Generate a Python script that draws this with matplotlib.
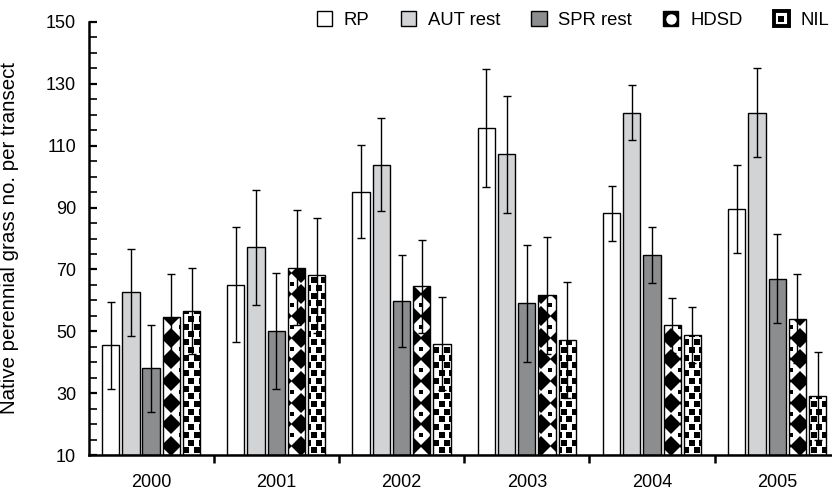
import numpy as np
import matplotlib.pyplot as plt
from matplotlib.patches import Patch, Rectangle
from matplotlib.lines import Line2D
from matplotlib.legend_handler import HandlerBase

plt.rcParams['font.family'] = ['Liberation Sans', 'DejaVu Sans']

years = ['2000', '2001', '2002', '2003', '2004', '2005']
treatments = ['RP', 'AUT rest', 'SPR rest', 'HDSD', 'NIL']

rp = [45.5, 65.1, 95.1, 115.7, 88.1, 89.6]
aut_rest = [62.6, 77.2, 103.8, 107.2, 120.7, 120.7]
spr_rest = [38.0, 50.1, 59.8, 59.0, 74.6, 67.0]
hdsd = [54.5, 70.6, 64.5, 61.6, 51.9, 54.0]
nil = [56.6, 68.1, 46.0, 47.1, 48.9, 29.0]

# error bar half-length read per year (about the same for every treatment)
err_rp = [14.0, 18.7, 15.0, 19.0, 9.0, 14.3]
err_aut = [14.0, 18.6, 15.0, 18.9, 9.0, 14.3]
err_spr = [14.0, 18.7, 15.0, 18.9, 9.0, 14.3]
err_hdsd = [14.0, 18.6, 15.0, 19.0, 9.0, 14.4]
err_nil = [14.0, 18.6, 15.0, 18.7, 9.0, 14.2]

values = [rp, aut_rest, spr_rest, hdsd, nil]
errors = [err_rp, err_aut, err_spr, err_hdsd, err_nil]
colors = ['white', '#d1d3d4', '#8b8d8f', 'white', 'white']

base = 10

fig = plt.figure(figsize=(8.32, 4.92), dpi=100)
ax = fig.add_axes([88.5 / 832, 37 / 492, (832 - 88.5) / 832, 433 / 492])

x = np.arange(len(years))
step = 0.1616
width = 0.138

containers = []
for k, (vals, errs, col) in enumerate(zip(values, errors, colors)):
    pos = x + (k - 2) * step
    h = np.array(vals) - base
    bars = ax.bar(pos, h, width, bottom=base, color=col, edgecolor='none', zorder=2)
    containers.append(bars)
    # outline on top of any pattern
    ax.bar(pos, h, width, bottom=base, fill=False, edgecolor='black', linewidth=1.0, zorder=3)
    ax.errorbar(pos, vals, yerr=errs, fmt='none', ecolor='black', elinewidth=1.0,
                capsize=3, capthick=1.0, zorder=4)


def fill_pattern(bars, x0, px, y0, py, marker, ms, stagger=0.0):
    # lattice of markers, clipped to each bar
    for b in bars:
        bx, by, bw, bh = b.get_x(), b.get_y(), b.get_width(), b.get_height()
        j0 = int(np.floor((by - y0) / py)) - 1
        j1 = int(np.ceil((by + bh - y0) / py)) + 1
        xs, ys = [], []
        for j in range(j0, j1 + 1):
            off = x0 + (j % 2) * stagger * px
            i0 = int(np.floor((bx - off) / px)) - 1
            i1 = int(np.ceil((bx + bw - off) / px)) + 1
            for i in range(i0, i1 + 1):
                xs.append(off + i * px)
                ys.append(y0 + j * py)
        ln, = ax.plot(xs, ys, ls='', marker=marker, ms=ms, color='black',
                      markeredgewidth=0, zorder=2.5)
        ln.set_clip_path(b)


hd = containers[3]
hx0 = hd[0].get_x() + hd[0].get_width() / 2
fill_pattern(hd, hx0, 0.1477, 12.9, 7.0, 'D', 10.5)
fill_pattern(hd, hx0 + 0.1477 / 2, 0.1477, 12.9 + 3.5, 7.0, 's', 3.2)

nl = containers[4]
fill_pattern(nl, nl[0].get_x() + 0.025, 0.085, 11.5, 2.5, 's', 3.8, stagger=0.5)

ax.set_ylim(10, 150)
ax.set_xlim(-0.5, -0.5 + (832 - 88.3) / 125.25)

ax.set_yticks(np.arange(10, 151, 20))
ax.set_yticks(np.arange(10, 151, 5), minor=True)
ax.tick_params(axis='y', which='major', direction='in', length=6, width=1.6, pad=9, labelsize=13)
ax.tick_params(axis='y', which='minor', direction='in', length=6, width=1.2)

ax.set_xticks(x)
ax.set_xticklabels(years)
ax.set_xticks(x[:-1] + 0.5, minor=True)
ax.tick_params(axis='x', which='major', length=0, pad=14, labelsize=13)
ax.tick_params(axis='x', which='minor', direction='out', length=6, width=1.8)

for s in ['top', 'right']:
    ax.spines[s].set_visible(False)
for s in ['left', 'bottom']:
    ax.spines[s].set_linewidth(1.8)

ax.set_ylabel('Native perennial grass no. per transect', fontsize=14.8)
ax.yaxis.set_label_coords(-0.094, 0.5)


class BoxHandler(HandlerBase):
    # legend key: square plus an optional marker in the middle
    def __init__(self, fc, lw=1.0, marker=None, mcolor='black', ms=6):
        super().__init__()
        self.fc, self.lw, self.marker, self.mcolor, self.ms = fc, lw, marker, mcolor, ms

    def create_artists(self, legend, orig_handle, xdescent, ydescent, width, height,
                       fontsize, trans):
        side = min(width, height)
        x0 = -xdescent + (width - side) / 2
        y0 = -ydescent + (height - side) / 2
        r = Rectangle((x0, y0), side, side, facecolor=self.fc, edgecolor='black',
                      linewidth=self.lw, transform=trans)
        arts = [r]
        if self.marker:
            m = Line2D([x0 + side / 2], [y0 + side / 2], ls='', marker=self.marker,
                       ms=self.ms, color=self.mcolor, markeredgewidth=0, transform=trans)
            arts.append(m)
        return arts


handles = [Patch(label=t) for t in treatments]
hmap = {
    handles[0]: BoxHandler('white'),
    handles[1]: BoxHandler(colors[1]),
    handles[2]: BoxHandler(colors[2]),
    handles[3]: BoxHandler('black', marker='o', mcolor='white', ms=7.5),
    handles[4]: BoxHandler('white', lw=2.8, marker='s', mcolor='black', ms=4.5),
}
fig.legend(handles, treatments, ncol=5, loc='center right',
           bbox_to_anchor=(0.997, 1 - 20 / 492), frameon=False, fontsize=13.3,
           handlelength=0.9, handleheight=0.9, handletextpad=0.6,
           columnspacing=1.65, borderaxespad=0, borderpad=0, handler_map=hmap)

fig.savefig('out.png', dpi=100)
